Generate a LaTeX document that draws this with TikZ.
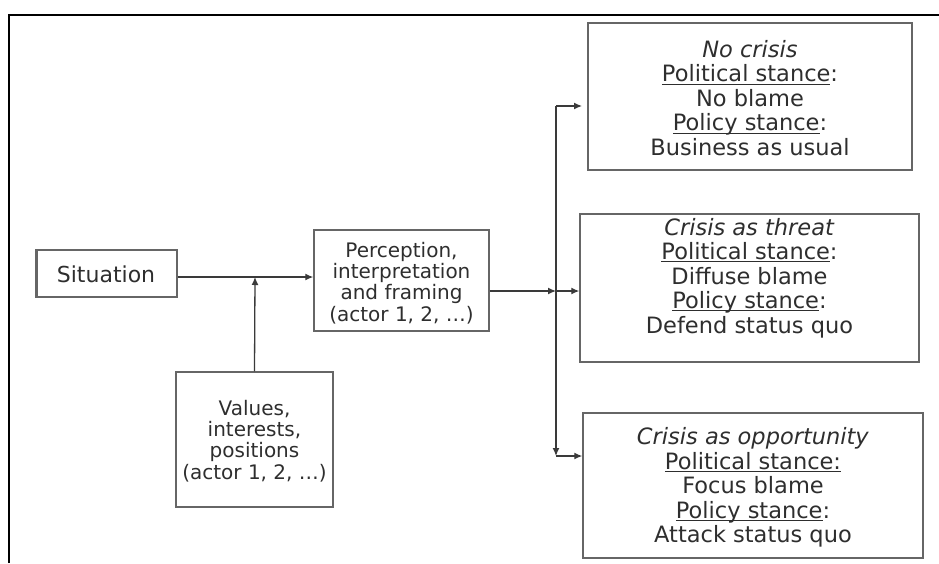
\documentclass[tikz,border=0pt]{standalone}
\usepackage{fontspec}
\setmainfont{DejaVu Sans}
\usetikzlibrary{arrows.meta}
\definecolor{txtc}{HTML}{2E2E2E}
\definecolor{boxc}{HTML}{666666}
\definecolor{arrc}{HTML}{3A3A3A}
\newcommand\myul[1]{\setbox0\hbox{#1}\rlap{\rule[-2.6pt]{\wd0}{0.9pt}}#1}
\tikzset{
  box/.style={draw=boxc, line width=1.4pt, rectangle, inner sep=0pt},
  txt/.style={text=txtc, align=center, inner sep=0pt},
  arr/.style={draw=arrc, line width=1.3pt, -{Latex[length=8pt,width=7pt]}},
  ln/.style={draw=arrc, line width=1.3pt},
}
\begin{document}
\begin{tikzpicture}[x=1pt,y=-1pt]
\useasboundingbox (0,0) rectangle (939,563);
% outer frame (top and left only)
\draw[line width=2pt, black] (9,563) -- (9,15) -- (939,15);

% Situation
\node[box, minimum width=140pt, minimum height=47pt] (sit) at (107,273.5) {};
\draw[draw=boxc, line width=2.6pt] (sit.south west) -- (sit.north west);
\node[txt, font=\fontsize{22}{24}\selectfont] (sittxt) at (106,274) {Situation};

% Perception
\node[box, minimum width=175pt, minimum height=101pt] (perc) at (401.5,280.5) {};
\node[txt, font=\fontsize{20}{21.3}\selectfont] (perctxt) at (401.5,283) {Perception,\\interpretation\\and framing\\(actor 1, 2, …)};

% Values
\node[box, minimum width=157pt, minimum height=135pt] (val) at (254.5,439.5) {};
\node[txt, font=\fontsize{20}{21.3}\selectfont] (valtxt) at (254.5,441) {Values,\\interests,\\positions\\(actor 1, 2, …)};

% Right boxes
\node[box, minimum width=324pt, minimum height=147pt] (top) at (750,96.5) {};
\node[txt, font=\fontsize{22.5}{24.5}\selectfont] (toptxt) at (750,98)
  {\textit{No crisis}\\\myul{Political stance}:\\No blame\\\myul{Policy stance}:\\Business as usual};

\node[box, minimum width=339pt, minimum height=148pt] (mid) at (749.5,288) {};
\node[txt, font=\fontsize{22.5}{24.5}\selectfont] (midtxt) at (749.5,278)
  {\textit{Crisis as threat}\\\myul{Political stance}:\\Diffuse blame\\\myul{Policy stance}:\\Defend status quo};

\node[box, minimum width=340pt, minimum height=145pt] (bot) at (753,485.5) {};
\node[txt, font=\fontsize{22.5}{24.5}\selectfont] (bottxt) at (753,487.5)
  {\textit{Crisis as opportunity}\\\myul{Political stance:}\\Focus blame\\\myul{Policy stance}:\\Attack status quo};

% connectors
\coordinate (j1) at (255,277);
\coordinate (k) at (556,291);
\coordinate (vt) at (556,106);
\coordinate (vb) at (556,456);
\coordinate (topin) at (582,106);

\draw[ln] (sit.east |- j1) -- (j1);
\draw[arr] (j1) -- (perc.west |- j1);
\draw[arr] (val.north) -- (j1);
\draw[arr] (perc.east |- k) -- (k);
\draw[arr] (k) -- (mid.west |- k);
\draw[arr] (vt) -- (vb);
\draw[arr] (vt) -- (topin);
\draw[arr] (vb) -- (bot.west |- vb);
\end{tikzpicture}
\end{document}
